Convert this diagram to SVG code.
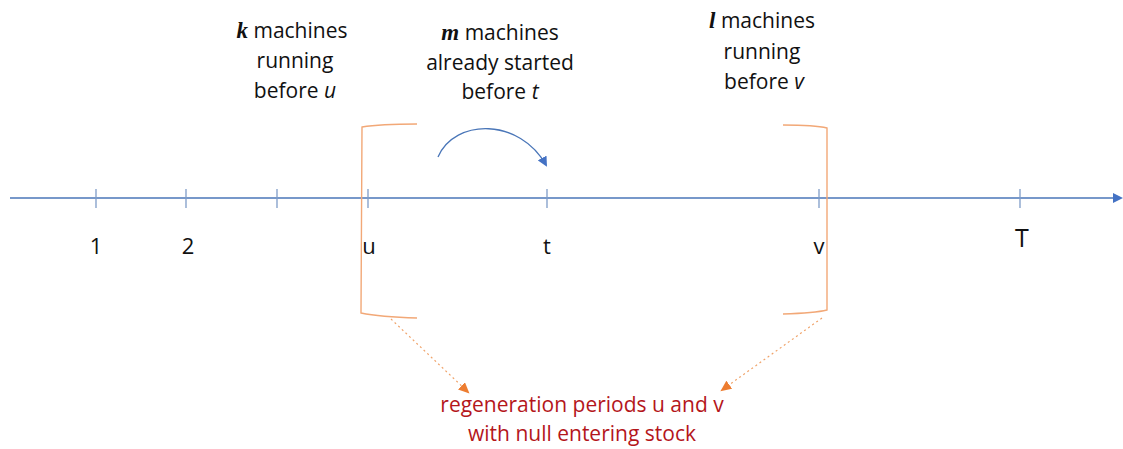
<svg xmlns="http://www.w3.org/2000/svg" width="1123" height="449" viewBox="0 0 1123 449">
<defs>
<style>
.lbl{font-family:"Open Sans","Liberation Sans",sans-serif;font-size:21px;fill:#111;text-anchor:middle}
.ax{font-family:"Open Sans","Liberation Sans",sans-serif;font-size:22px;fill:#111;text-anchor:middle}
.var{font-family:"Liberation Serif",serif;font-weight:bold;font-style:italic}
.red{font-family:"Open Sans","Liberation Sans",sans-serif;font-size:21px;fill:#b4161b;text-anchor:middle}
.tick{stroke:#7f9cc8;stroke-width:1.3}
.brk{fill:none;stroke:#f2a877;stroke-width:1.4}
.dot{fill:none;stroke:#f0a36a;stroke-width:1.2;stroke-dasharray:2 3}
</style>
<marker id="ab" markerWidth="10" markerHeight="10" refX="8" refY="5" orient="auto" markerUnits="userSpaceOnUse">
<path d="M0,0 L10,5 L0,10 Z" fill="#4472c4"/>
</marker>
<marker id="ao" markerWidth="12" markerHeight="10" refX="9" refY="5" orient="auto" markerUnits="userSpaceOnUse">
<path d="M0,0 L11,5 L0,10 Z" fill="#ed7d31"/>
</marker>
</defs>
<g id="axis">
<line x1="10" y1="198" x2="1121" y2="198" stroke="#4a76b8" stroke-width="1.3" marker-end="url(#ab)"/>
<line class="tick" x1="96" y1="189" x2="96" y2="208"/>
<line class="tick" x1="186" y1="189" x2="186" y2="208"/>
<line class="tick" x1="277" y1="189" x2="277" y2="208"/>
<line class="tick" x1="368" y1="189" x2="368" y2="208"/>
<line class="tick" x1="547" y1="189" x2="547" y2="208"/>
<line class="tick" x1="819" y1="189" x2="819" y2="208"/>
<line class="tick" x1="1020" y1="189" x2="1020" y2="208"/>
</g>
<g id="axis-labels">
<text class="ax" x="96" y="254">1</text>
<text class="ax" x="188" y="254">2</text>
<text class="ax" x="369" y="254">u</text>
<text class="ax" x="547" y="254">t</text>
<text class="ax" x="819" y="254">v</text>
<text class="ax" x="1022" y="247" style="font-size:25px">T</text>
</g>
<g id="label-k">
<text class="lbl" x="292" y="38"><tspan class="var" style="font-size:23px">k</tspan> machines</text>
<text class="lbl" x="295" y="68">running</text>
<text class="lbl" x="295" y="98">before <tspan font-style="italic">u</tspan></text>
</g>
<g id="label-m">
<text class="lbl" x="500" y="40"><tspan class="var" style="font-size:23px">m</tspan> machines</text>
<text class="lbl" x="500" y="70">already started</text>
<text class="lbl" x="500" y="99">before <tspan font-style="italic">t</tspan></text>
</g>
<g id="label-l">
<text class="lbl" x="762" y="28"><tspan class="var" style="font-size:23px">l</tspan> machines</text>
<text class="lbl" x="762" y="59">running</text>
<text class="lbl" x="764" y="89">before <tspan font-style="italic">v</tspan></text>
</g>
<g id="bracket-u">
<path class="brk" d="M417,124 Q380,124 362,127 L361,313 Q380,317 417,318"/>
</g>
<g id="bracket-v">
<path class="brk" d="M783,125 Q815,125 827,128 L827,310 Q815,313 783,314"/>
</g>
<g id="regen-label">
<text class="red" x="582" y="412">regeneration periods u and v</text>
<text class="red" x="582" y="441">with null entering stock</text>
</g>
<g id="connectors">
<path d="M438,157 C455,118 520,118 546,165" fill="none" stroke="#4a76b8" stroke-width="1.3" marker-end="url(#ab)"/>
<path class="dot" d="M391,319 L468,392" marker-end="url(#ao)"/>
<path class="dot" d="M822,318 L722,390" marker-end="url(#ao)"/>
</g>
</svg>
